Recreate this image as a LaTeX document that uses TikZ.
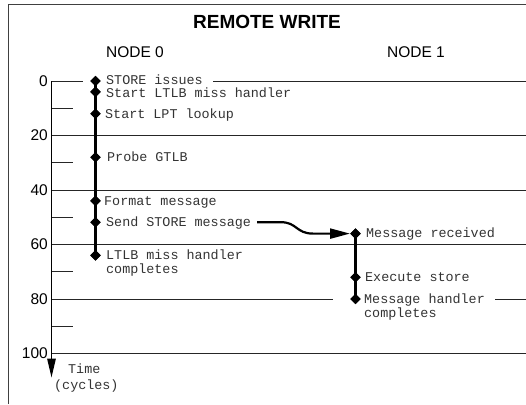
\documentclass[tikz,border=0pt]{standalone}
\usepackage{fontspec}
\setmainfont{Liberation Sans}
\newfontfamily\monofont{Liberation Mono}
\usetikzlibrary{shapes.geometric,arrows.meta}
\begin{document}
\begin{tikzpicture}[x=1pt,y=-1pt,
  frameline/.style={draw=black!75, line width=1pt},
  gridline/.style={draw=black!85, line width=0.9pt},
  ticksmall/.style={draw=black!85, line width=0.9pt},
  timeline/.style={draw=black, line width=2.4pt},
  event/.style={diamond, fill=black, draw=none, inner sep=0pt, minimum width=10.5pt, minimum height=10.5pt},
  evlabel/.style={anchor=base west, inner sep=0pt, font=\monofont\fontsize{13.4}{14}\selectfont, text=black!80},
  axnum/.style={anchor=east, inner sep=0pt, font=\fontsize{15.5}{16}\selectfont},
  colhead/.style={anchor=base, inner sep=0pt, font=\fontsize{15.5}{16}\selectfont},
  titlestyle/.style={anchor=base, inner sep=0pt, font=\bfseries\fontsize{19}{21}\selectfont},
  axisline/.style={draw=black, line width=1.5pt, -{Triangle[length=19pt,width=8.5pt]}},
  sendarrow/.style={draw=black, line width=2.2pt, -{Triangle[length=20pt,width=10pt]}}
]
\useasboundingbox (0,0) rectangle (526,404);
% frame
\draw[frameline] (8,404) -- (8,4.5) -- (526,4.5);
% title and column heads
\node[titlestyle] (title) at (267,29) {REMOTE WRITE};
\node[colhead] (node0) at (135,57.5) {NODE 0};
\node[colhead] (node1) at (416,57.5) {NODE 1};
% grid lines
\draw[gridline] (51.5,81) -- (83,81);
\draw[gridline] (213,81) -- (526,81);
\draw[gridline] (51.5,135.5) -- (526,135.5);
\draw[gridline] (51.5,190) -- (526,190);
\draw[gridline] (51.5,244.5) -- (526,244.5);
\draw[gridline] (51.5,299) -- (333,299);
\draw[gridline] (495,299) -- (526,299);
\draw[gridline] (51.5,353.5) -- (526,353.5);
% minor ticks
\foreach \yy in {108.25,162.75,217.25,271.75,326.25}
  \draw[ticksmall] (51.5,\yy) -- (73,\yy);
% axis
\coordinate (axtop) at (51.5,81);
\coordinate (axtip) at (51.5,377.5);
\draw[axisline] (axtop) -- (axtip);
\node[axnum] (n0) at (48,81) {0};
\node[axnum] (n20) at (48,135.5) {20};
\node[axnum] (n40) at (48,190) {40};
\node[axnum] (n60) at (48,244.5) {60};
\node[axnum] (n80) at (48,299) {80};
\node[axnum] (n100) at (48,353.5) {100};
\node[evlabel, anchor=west] (timelbl) at (68,369) {Time};
\node[evlabel, anchor=west] (cyclbl) at (54,386) {(cycles)};
% node 0 events
\node[event] (d0) at (95.5,81) {};
\node[event] (d4) at (95.5,91.9) {};
\node[event] (d12) at (95.5,113.7) {};
\node[event] (d28) at (95.5,157.3) {};
\node[event] (d44) at (95.5,200.9) {};
\node[event] (d52) at (95.5,222.2) {};
\node[event] (d64) at (95.5,255.4) {};
\draw[timeline] (d0.center) -- (d64.center);
\foreach \d in {d0,d4,d12,d28,d44,d52,d64} \node[event] at (\d) {};
% node 1 events
\node[event] (r56) at (355.5,233.6) {};
\node[event] (r72) at (355.5,277.2) {};
\node[event] (r80) at (355.5,299) {};
\draw[timeline] (r56.center) -- (r80.center);
\foreach \d in {r56,r72,r80} \node[event] at (\d) {};
% labels
\node[evlabel] (l0) at (106,84.2) {STORE issues};
\node[evlabel] (l4) at (106,97.4) {Start LTLB miss handler};
\node[evlabel] (l12) at (105,118) {Start LPT lookup};
\node[evlabel] (l28) at (107,161.6) {Probe GTLB};
\node[evlabel] (l44) at (104,205.2) {Format message};
\node[evlabel] (l52) at (106,226.5) {Send STORE message};
\node[evlabel] (l64) at (106,259.7) {\begin{tabular}[t]{@{}l@{}}LTLB miss handler\\completes\end{tabular}};
\node[evlabel] (m56) at (366,237.9) {Message received};
\node[evlabel] (m72) at (365,281.5) {Execute store};
\node[evlabel] (m80) at (364,303.3) {\begin{tabular}[t]{@{}l@{}}Message handler\\completes\end{tabular}};
% message arrow
\coordinate (sendstart) at (257,222.2);
\draw[sendarrow] (sendstart) -- (281,222.2) .. controls (297,222.2) and (296,233.6) .. (313,233.6) -- (r56.west);
\end{tikzpicture}
\end{document}
